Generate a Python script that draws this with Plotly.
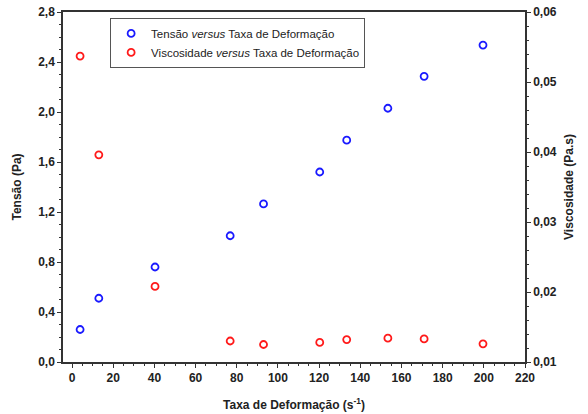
import plotly.graph_objects as go

taxa = [3.9, 13.0, 40.3, 76.8, 93.0, 120.3, 133.4, 153.4, 171.0, 199.6]
tensao = [0.26, 0.51, 0.76, 1.01, 1.265, 1.52, 1.775, 2.03, 2.285, 2.535]
viscosidade = [0.0537, 0.0396, 0.0208, 0.0130, 0.0125, 0.0128, 0.0132, 0.0134, 0.0133, 0.0126]

FAM = "Liberation Sans, Arial, sans-serif"
font = dict(family=FAM, size=12, color="#222222")

fig = go.Figure()
fig.add_trace(go.Scatter(
    x=taxa, y=tensao, mode="markers", name="Tensão <i>versus</i> Taxa de Deformação",
    marker=dict(symbol="circle-open", size=7, color="#1a1aff", line=dict(width=1.8, color="#1a1aff")),
    yaxis="y"))
fig.add_trace(go.Scatter(
    x=taxa, y=viscosidade, mode="markers", name="Viscosidade <i>versus</i> Taxa de Deformação",
    marker=dict(symbol="circle-open", size=7, color="#ff1a1a", line=dict(width=1.8, color="#ff1a1a")),
    yaxis="y2"))

axis_common = dict(showgrid=False, zeroline=False, showline=True, linecolor="#333333", linewidth=1.5,
                   ticks="outside", ticklen=4, tickcolor="#333333", automargin=False,
                   tickfont=dict(family=FAM, size=12, color="#222222", weight="bold"))

fig.update_layout(
    width=588, height=414,
    margin=dict(l=63, r=63, t=12, b=52),
    paper_bgcolor="white", plot_bgcolor="white",
    separators=",.",
    font=font,
    showlegend=True,
    legend=dict(x=0.102, y=0.983, xanchor="left", yanchor="top",
                bgcolor="white", bordercolor="#555555", borderwidth=1,
                font=dict(family=FAM, size=11.5, color="#222222"),
                tracegroupgap=0, itemwidth=30),
    xaxis=dict(range=[-4.4, 220], dtick=20, tick0=0, mirror=True,
               minor=dict(dtick=5, ticks="outside", ticklen=2, tickcolor="#333333"),
               title=dict(text="<b>Taxa de Deformação (s<sup>-1</sup>)</b>", standoff=16,
                          font=dict(family=FAM, size=12, color="#222222")),
               **axis_common),
    yaxis=dict(range=[0, 2.8], dtick=0.4, tick0=0, tickformat=".1f",
               minor=dict(dtick=0.1, ticks="outside", ticklen=2, tickcolor="#333333"),
               title=dict(text="<b>Tensão (Pa)</b>", standoff=14,
                          font=dict(family=FAM, size=12, color="#222222")),
               **axis_common),
    yaxis2=dict(range=[0.01, 0.06], dtick=0.01, tick0=0.01, tickformat=".2f", overlaying="y", side="right",
                minor=dict(dtick=0.002, ticks="outside", ticklen=2, tickcolor="#333333"),
                title=dict(text="<b>Viscosidade (Pa.s)</b>", standoff=9,
                           font=dict(family=FAM, size=12, color="#222222")),
                **axis_common),
)

fig.write_html("out.html")
